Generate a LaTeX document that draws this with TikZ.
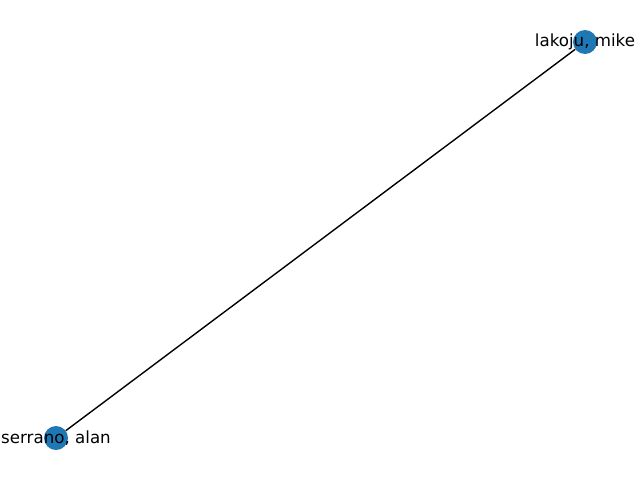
\documentclass[tikz,border=0pt]{standalone}
\usepackage{fontspec}
\setmainfont{DejaVu Sans}
\definecolor{mplblue}{HTML}{1F77B4}
\begin{document}
\begin{tikzpicture}[x=1pt,y=-1pt,
  vertex/.style={circle,fill=mplblue,draw=none,minimum size=24pt,inner sep=0pt},
  lbl/.style={font=\fontsize{16.67}{20}\selectfont,inner sep=0pt,text=black},
  edge/.style={draw=black,line width=1.39pt}]
\useasboundingbox (0,0) rectangle (640,480);
\node[vertex] (a) at (585,42) {};
\node[vertex] (b) at (56,438) {};
\draw[edge] (a) -- (b);
\node[lbl] (la) at (585,42) {lakoju, mike};
\node[lbl] (lb) at (56,438) {serrano, alan};
\end{tikzpicture}
\end{document}
